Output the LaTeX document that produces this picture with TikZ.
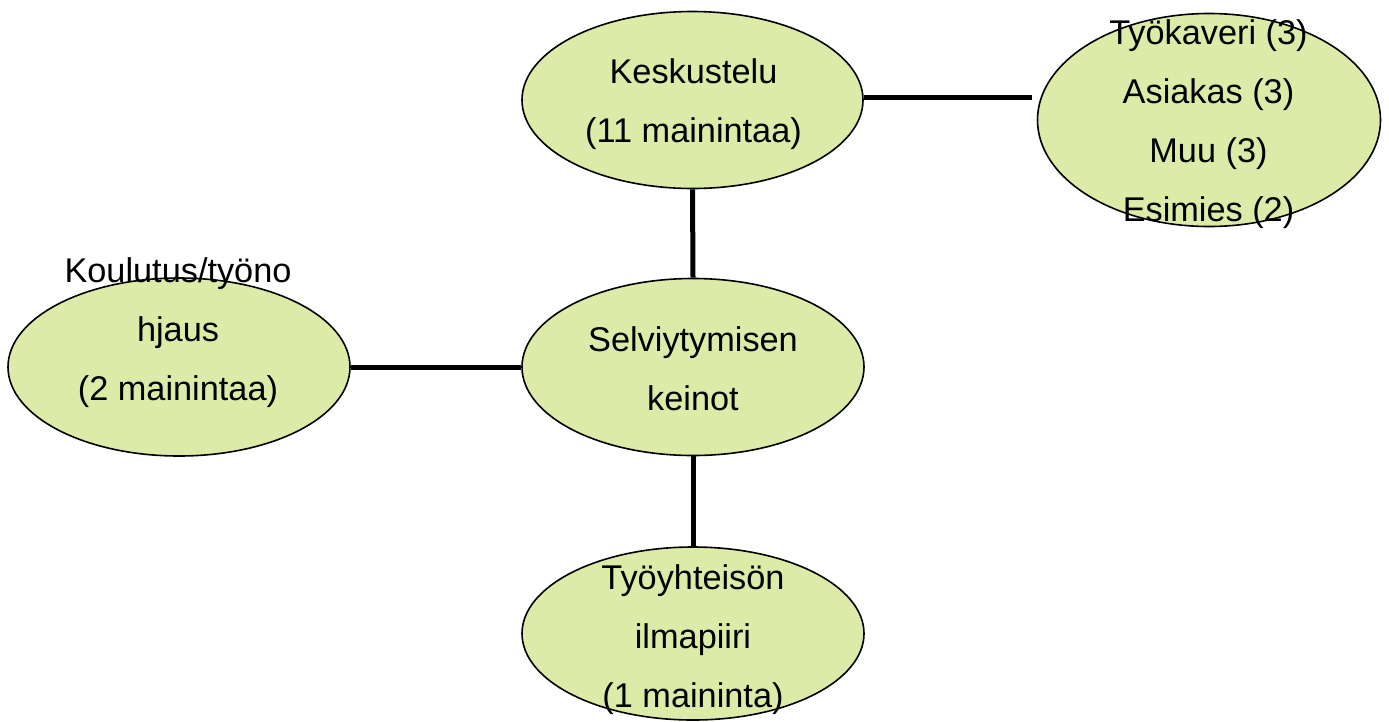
\documentclass[tikz,border=0pt]{standalone}
\usepackage{fontspec}
\setmainfont{Liberation Sans}
\usetikzlibrary{shapes.geometric}
\definecolor{bubblefill}{RGB}{221,235,168}
\begin{document}
\begin{tikzpicture}[x=1pt,y=-1pt,
  bubble/.style={ellipse,draw=black,line width=1.6pt,fill=bubblefill,inner sep=0pt},
  txt/.style={align=center,inner sep=0pt,font=\fontsize{34.3}{59}\selectfont},
  link/.style={line width=5pt,black}]
\useasboundingbox (0,0) rectangle (1389,721);

% topic bubbles
\node[bubble,minimum width=341pt,minimum height=177pt] (kesk) at (692.5,100) {};
\node[bubble,minimum width=343pt,minimum height=213pt] (tahot) at (1209,120) {};
\node[bubble,minimum width=342pt,minimum height=178pt] (koul) at (179,367) {};
\node[bubble,minimum width=342pt,minimum height=177pt] (selv) at (693,367) {};
\node[bubble,minimum width=342pt,minimum height=173pt] (ilma) at (693,633.5) {};

% connectors
\coordinate (tahotend) at (1032,97);
\draw[link] (tahotend -| kesk.east) -- (tahotend);
\draw[link] (kesk.south) -- (selv.north);
\draw[link] (koul.east) -- (selv.west);
\draw[link] (selv.south) -- (ilma.north);

% labels
\node[txt] (kesk-t) at (693.5,101.2) {\strut Keskustelu\\\strut(11 mainintaa)};
\node[txt] (tahot-t) at (1208.5,120.7) {\strut Työkaveri (3)\\\strut Asiakas (3)\\\strut Muu (3)\\\strut Esimies (2)};
\node[txt] (koul-t) at (178,329.2) {\strut Koulutus/työno\\\strut hjaus\\\strut(2 mainintaa)};
\node[txt] (selv-t) at (693,369.2) {\strut Selviytymisen\\\strut keinot};
\node[txt] (ilma-t) at (693,636.7) {\strut Työyhteisön\\\strut ilmapiiri\\\strut(1 maininta)};
\end{tikzpicture}
\end{document}
